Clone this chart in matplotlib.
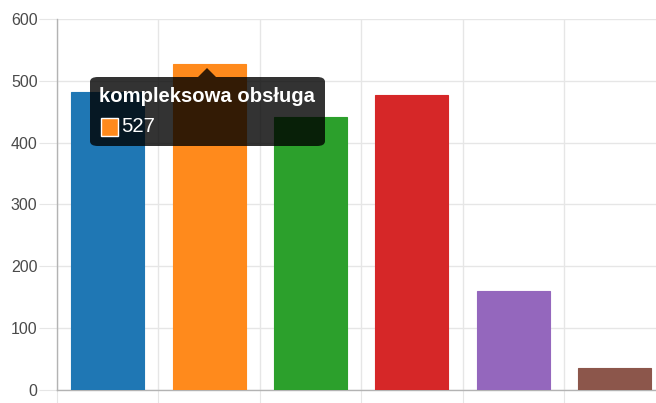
import numpy as np
import matplotlib.pyplot as plt
from matplotlib.patches import FancyBboxPatch, Polygon, Rectangle

plt.rcParams['font.family'] = ['Liberation Sans', 'DejaVu Sans']

# bar values (categories have no visible labels)
values = [482, 527, 442, 477, 160, 35]
colors = ['#1f77b4', '#ff8a1c', '#2ca02c', '#d62728', '#9467bd', '#8c564b']
yticks = [0, 100, 200, 300, 400, 500, 600]
tip_title = 'kompleksowa obsługa'
tip_index = 1

W, H = 656, 403
fig = plt.figure(figsize=(W/100, H/100), dpi=100)

# axes rect in pixels: left 57, right 665 (cropped), y 19..390
x0, x1, ytop, ybot = 57, 665.5, 19, 390
ax = fig.add_axes([x0/W, (H-ybot)/H, (x1-x0)/W, (ybot-ytop)/H])

n = len(values)
x = np.arange(n)
ax.bar(x, values, width=0.72, color=colors, edgecolor=colors, linewidth=0.8, zorder=3)

ax.set_xlim(-0.5, n-0.5)
ax.set_ylim(0, 600)
ax.set_yticks(yticks)
ax.set_xticks(np.arange(n+1)-0.5)
ax.set_xticklabels([])
ax.grid(True, color='#e6e6e6', linewidth=1, zorder=0)
ax.tick_params(axis='y', length=13, color='#e6e6e6', labelsize=11.5, labelcolor='#4a4a4a', pad=1)
ax.tick_params(axis='x', length=12, color='#e6e6e6')
for s in ['top', 'right']:
    ax.spines[s].set_visible(False)
for s in ['left', 'bottom']:
    ax.spines[s].set_color('#b3b3b3')
    ax.spines[s].set_linewidth(1)

# tooltip, drawn in pixel coordinates
def fx(px):
    return px / W
def fy(py):
    return (H - py) / H

box = FancyBboxPatch((fx(90), fy(146)), fx(325) - fx(90), fy(77) - fy(146),
                     boxstyle='round,pad=0,rounding_size=0.012',
                     transform=fig.transFigure, facecolor='black', alpha=0.8,
                     edgecolor='none', zorder=10)
fig.patches.append(box)
caret = Polygon([[fx(198), fy(77)], [fx(207), fy(68)], [fx(216), fy(77)]],
                closed=True, transform=fig.transFigure, facecolor='black',
                alpha=0.8, edgecolor='none', zorder=10)
fig.patches.append(caret)
fig.text(fx(99), fy(96), tip_title, color='white', fontsize=14.6,
         fontweight='bold', va='center', ha='left', zorder=11)
sq = Rectangle((fx(101), fy(136)), fx(118) - fx(101), fy(118) - fy(136),
               transform=fig.transFigure, facecolor=colors[tip_index],
               edgecolor='white', linewidth=1, zorder=11)
fig.patches.append(sq)
fig.text(fx(121), fy(127), str(values[tip_index]), color='white', fontsize=14.6,
         va='center', ha='left', zorder=11)

fig.savefig('out.png', dpi=100)
